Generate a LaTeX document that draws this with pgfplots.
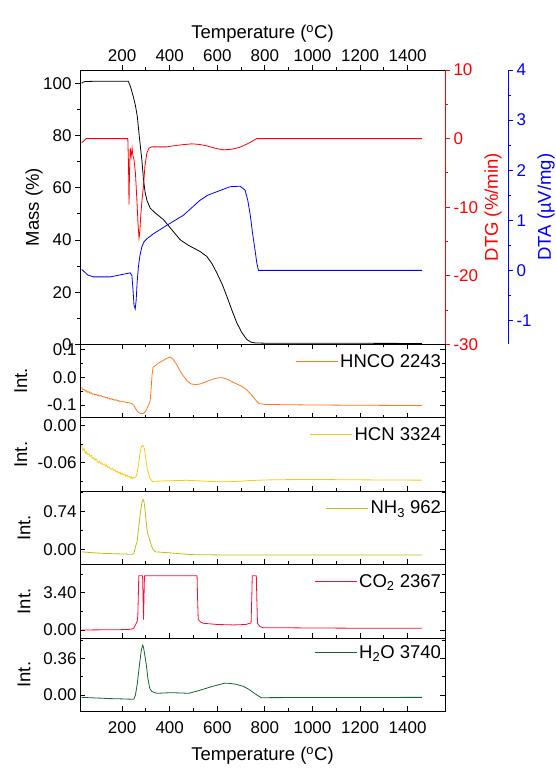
\documentclass[border=0pt]{standalone}
\usepackage{fontspec}
\setmainfont{Liberation Sans}
\usepackage{pgfplots}
\pgfplotsset{compat=1.18}

\definecolor{hnco}{RGB}{255,120,30}
\definecolor{hcn}{RGB}{250,200,20}
\definecolor{nhthree}{RGB}{190,190,20}
\definecolor{cotwo}{RGB}{255,10,50}
\definecolor{htwoo}{RGB}{20,100,50}

\newcommand{\labfont}{\fontsize{18.5}{19}\selectfont}

\pgfplotsset{
  every axis/.append style={
    scale only axis, width=365pt,
    xmin=23, xmax=1557,
    xtick={200,400,...,1400}, minor x tick num=1,
    /pgf/number format/assume math mode=true,
    /pgf/number format/1000 sep={},
    tick label style={font=\fontsize{17}{17}\selectfont},
    label style={font=\labfont},
    axis line style={line width=0.9pt},
    tick style={line width=0.9pt, black},
    major tick length=5pt, minor tick length=3pt,
    legend image code/.code={\draw[#1] (0pt,0pt) -- (42pt,0pt);},
  },
  panel/.style={
    anchor=south west, tick align=inside,
    ytick pos=both, xtick pos=bottom,
    xticklabel=\empty,
    ylabel={Int.},
    every axis y label/.style={at={(axis description cs:#1,0.5)}, rotate=90, anchor=center, font=\labfont},
    legend style={draw=none, fill=none, at={(rel axis cs:0.995,0.77)}, anchor=east,
      font=\labfont, inner sep=0pt},
  },
}

\begin{document}
\begin{tikzpicture}

% main panel: mass (left)
\begin{axis}[
  at={(80pt,424.5pt)}, anchor=south west, height=274.5pt,
  ymin=0, ymax=105.1, ytick={0,20,...,100}, minor y tick num=1,
  tick align=outside, xtick pos=both, xticklabel pos=top, ytick pos=left,
  xlabel={Temperature (\textsuperscript{o}C)}, ylabel={Mass (\%)},
  every axis y label/.style={at={(axis description cs:-0.126,0.5)}, rotate=90, anchor=center, font=\labfont},
]
\addplot[black, line width=0.8pt] coordinates {
(30,100.0) (35,100.4) (45,100.7) (100,100.8) (226,100.8) (236,98.5) (247,94.9)
(256,91.5) (264,87.2) (273,79) (283,70.7) (290,63) (297,58) (305,55) (318,52.2)
(340,50.3) (374,47.8) (410,43.8) (444,40.1) (480,37.9) (528,35.6) (556,33.7)
(578,30.9) (598,27.4) (620,23.2) (640,18.5) (661,13.2) (682,8.3) (703,4.6)
(724,1.9) (742,0.9) (759,0.6) (800,0.5) (1000,0.45) (1200,0.45) (1460,0.4)};
\end{axis}

% DTG (red, right)
\begin{axis}[
  at={(80pt,424.5pt)}, anchor=south west, height=274.5pt,
  hide x axis, axis y line*=right, tick align=outside,
  ymin=-30, ymax=10, ytick={-30,-20,...,10}, minor y tick num=1,
  y axis line style={red}, ytick style={red}, yticklabel style={red},
  ylabel={DTG (\%/min)},
  every axis y label/.style={at={(axis description cs:1.1315,0.5)}, rotate=90, anchor=center, font=\labfont, red},
]
\addplot[red, line width=0.8pt] coordinates {
(30,-0.6) (37,-0.4) (49,0) (224,0) (227,-4) (229,-9.6) (231,-5) (234,-1.4)
(238,-2.6) (242,-1.4) (245,-2.4) (250,-3.1) (256,-5) (262,-8.9) (267,-12.5)
(271,-14.5) (274,-13.8) (278.5,-11.1) (284,-8.8) (289.5,-7) (296,-4) (303.8,-2.1)
(313,-1.4) (324.8,-1.2) (387.8,-1.2) (415.6,-1.05) (450,-0.9) (492.9,-0.76)
(525,-0.85) (555.9,-1.05) (590,-1.4) (625.6,-1.64) (660,-1.55) (695.8,-1.25)
(730,-0.7) (766,0) (900,0) (1100,0) (1300,0) (1460,0)};
\end{axis}

% DTA (blue, offset right axis)
\begin{axis}[
  at={(80pt,424.5pt)}, anchor=south west, height=274.5pt,
  width=428pt, xmax=1821.8,
  hide x axis, axis y line*=right, tick align=outside,
  ymin=-1.48, ymax=4, ytick={-1,0,...,4}, minor y tick num=1,
  y axis line style={blue}, ytick style={blue}, yticklabel style={blue},
  ylabel={DTA (\textmu V/mg)},
  every axis y label/.style={at={(axis description cs:1.0888,0.5)}, rotate=90, anchor=center, font=\labfont, blue},
]
\addplot[blue, line width=0.8pt] coordinates {
(30,0.02) (37,-0.01) (55,-0.09) (79,-0.13) (150,-0.13) (234,-0.05) (241,-0.1)
(246,-0.4) (250,-0.7) (255,-0.77) (259,-0.6) (263,-0.25) (268.5,0.07) (275,0.3)
(283,0.47) (292,0.57) (304,0.63) (331.5,0.73) (388,0.9) (457.6,1.1) (527.7,1.4)
(560,1.5) (598,1.57) (653.8,1.67) (695.8,1.68) (716.8,1.6) (728,1.4) (737.8,1.13)
(748,0.75) (758.8,0.4) (766,0.15) (772.7,0.0) (900,0.0) (1100,0.0) (1300,0.0) (1460,0.0)};
\end{axis}

% HNCO
\begin{axis}[panel=-0.162,
  at={(80pt,351.3pt)}, height=73.2pt,
  ymin=-0.146, ymax=0.119, ytick={-0.1,0,0.1}, minor y tick num=1,
  yticklabel style={/pgf/number format/.cd, fixed, fixed zerofill, precision=1},
]
\addplot[hnco, line width=0.8pt] coordinates {
(30,-0.036) (35,-0.045) (40,-0.043) (45,-0.050) (50,-0.048) (55,-0.054) (62,-0.052)
(65,-0.058) (70,-0.056) (75,-0.061) (82,-0.060) (85,-0.063) (90,-0.062) (97,-0.066)
(100,-0.064) (105,-0.068) (112,-0.066) (120,-0.071) (125,-0.070) (130,-0.074)
(137,-0.072) (140,-0.076) (145,-0.075) (150,-0.079) (157,-0.077) (160,-0.081)
(165,-0.080) (170,-0.083) (177,-0.081) (180,-0.085) (185,-0.084) (190,-0.087)
(195,-0.086) (200,-0.088) (210,-0.089) (220,-0.091) (230,-0.092) (240,-0.094)
(250,-0.102) (258,-0.115) (265,-0.124) (272,-0.129) (280,-0.131) (290,-0.130)
(297,-0.125) (305,-0.112) (312,-0.098) (318,-0.085) (322,-0.040) (326,0.010)
(330,0.036) (340,0.043) (353,0.052) (370,0.060) (385,0.068) (402,0.074) (415,0.065)
(430,0.045) (444,0.022) (460,0.002) (475,-0.014) (490,-0.024) (510,-0.026)
(528,-0.024) (550,-0.017) (583,-0.006) (610,-0.001) (625,-0.002) (645,-0.008)
(667,-0.018) (700,-0.031) (723,-0.044) (745,-0.065) (765,-0.086) (776,-0.095)
(800,-0.098) (883,-0.099) (1000,-0.100) (1200,-0.101) (1460,-0.102)};
\addlegendentry{HNCO 2243}
\end{axis}

% HCN
\begin{axis}[panel=-0.162,
  at={(80pt,277.5pt)}, height=73.8pt,
  ymin=-0.1067, ymax=0.013, ytick={-0.06,0}, minor ytick={-0.09,-0.03},
  yticklabel style={/pgf/number format/.cd, fixed, fixed zerofill, precision=2},
]
\addplot[hcn, line width=0.8pt] coordinates {
(30,-0.031) (35,-0.040) (40,-0.037) (47,-0.045) (50,-0.042) (55,-0.047) (62,-0.046)
(65,-0.050) (72,-0.048) (75,-0.053) (80,-0.052) (87,-0.056) (90,-0.054) (95,-0.057)
(100,-0.060) (105,-0.058) (112,-0.062) (115,-0.061) (120,-0.063) (127,-0.062)
(130,-0.066) (135,-0.064) (140,-0.068) (147,-0.067) (150,-0.070) (155,-0.071)
(160,-0.069) (165,-0.073) (172,-0.072) (175,-0.075) (180,-0.074) (185,-0.077)
(192,-0.075) (195,-0.079) (200,-0.077) (205,-0.080) (212,-0.079) (215,-0.082)
(220,-0.080) (225,-0.083) (232,-0.082) (235,-0.085) (240,-0.083) (245,-0.086)
(250,-0.084) (258,-0.083) (263,-0.077) (270,-0.060) (275,-0.045) (280,-0.036)
(285,-0.032) (290,-0.033) (295,-0.040) (300,-0.055) (305,-0.068) (311,-0.078)
(318,-0.086) (328,-0.0905) (340,-0.0900) (400,-0.0893) (472,-0.0885) (550,-0.0900)
(600,-0.0910) (650,-0.0908) (700,-0.0900) (737,-0.0890) (800,-0.0880) (883,-0.0875)
(1000,-0.0872) (1100,-0.0875) (1200,-0.0878) (1300,-0.0880) (1400,-0.0882) (1460,-0.0883)};
\addlegendentry{HCN 3324}
\end{axis}

% NH3
\begin{axis}[panel=-0.153,
  at={(80pt,204.7pt)}, height=72.8pt,
  ymin=-0.295, ymax=1.138, ytick={0,0.74}, minor ytick={0.37,1.11},
  yticklabel style={/pgf/number format/.cd, fixed, fixed zerofill, precision=2},
]
\addplot[nhthree, line width=0.8pt] coordinates {
(30,-0.05) (100,-0.075) (151,-0.085) (200,-0.092) (242,-0.098) (250,-0.08)
(256,0.05) (263,0.15) (270,0.45) (277,0.72) (283,0.92) (288,0.98) (292,0.94)
(297,0.75) (303,0.45) (308,0.30) (314,0.22) (320,0.12) (325,0.05) (332,-0.02)
(340,-0.05) (402,-0.07) (450,-0.09) (500,-0.105) (600,-0.11) (800,-0.11)
(1000,-0.11) (1460,-0.11)};
\addlegendentry{NH\textsubscript{3} 962}
\end{axis}

% CO2
\begin{axis}[panel=-0.153,
  at={(80pt,130.7pt)}, height=74pt,
  ymin=-0.76, ymax=5.99, ytick={0,3.4}, minor ytick={1.7,5.1},
  yticklabel style={/pgf/number format/.cd, fixed, fixed zerofill, precision=2},
]
\addplot[cotwo, line width=0.8pt] coordinates {
(30,0.0) (100,0.01) (200,0.03) (235,0.06) (249,0.15) (256,0.46) (263,0.76)
(266,1.3) (268,3.0) (270,4.95) (286,4.95) (288,3.0) (290,0.95) (292,3.0)
(294,4.95) (515,4.95) (517,3.0) (520,0.95) (530,0.72) (541,0.61) (600,0.5)
(667,0.46) (720,0.5) (742,0.65) (745,3.0) (747,4.95) (764,4.95) (766,3.0)
(769,0.6) (780,0.3) (792,0.21) (883,0.2) (1000,0.18) (1200,0.16) (1460,0.15)};
\addlegendentry{CO\textsubscript{2} 2367}
\end{axis}

% H2O
\begin{axis}[panel=-0.153,
  at={(80pt,58pt)}, height=72.7pt,
  ymin=-0.157, ymax=0.558, ytick={0,0.36}, minor ytick={0.18,0.54},
  yticklabel style={/pgf/number format/.cd, fixed, fixed zerofill, precision=2},
  xticklabel={\pgfmathprintnumber{\tick}},
  xticklabel shift=7pt,
  xlabel={Temperature (\textsuperscript{o}C)},
  xlabel style={yshift=-7pt},
  legend style={at={(rel axis cs:0.995,0.8)}},
]
\addplot[htwoo, line width=0.8pt] coordinates {
(30,-0.023) (100,-0.03) (150,-0.035) (200,-0.038) (249,-0.042) (256,0.0)
(264,0.115) (272,0.28) (280,0.43) (286,0.49) (290,0.47) (296,0.38) (301,0.31)
(308,0.17) (316,0.066) (325,0.035) (346,0.017) (405,0.023) (450,0.02) (480,0.017)
(510,0.035) (539,0.056) (580,0.085) (629,0.115) (650,0.115) (674,0.108) (710,0.085)
(733,0.056) (760,0.01) (785,-0.026) (900,-0.025) (1100,-0.024) (1460,-0.023)};
\addlegendentry{H\textsubscript{2}O 3740}
\end{axis}

\pgfresetboundingbox
\path (0,0) rectangle (555pt,769pt);
\end{tikzpicture}
\end{document}
